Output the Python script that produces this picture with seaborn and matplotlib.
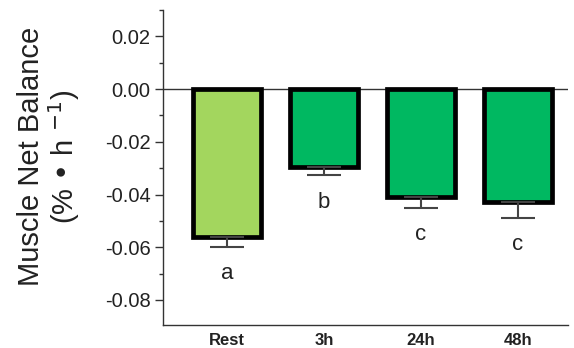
import matplotlib
matplotlib.use("Agg")
import matplotlib.pyplot as plt
import seaborn as sns
import pandas as pd
import numpy as np
from matplotlib.ticker import MultipleLocator

categories = ["Rest", "3h", "24h", "48h"]
values = [-0.056, -0.0297, -0.0408, -0.043]
errors = [0.0038, 0.003, 0.0042, 0.0058]
letters = ["a", "b", "c", "c"]
colors = ["#A3D65E", "#00B861", "#00B861", "#00B861"]

sns.set_theme(style="ticks")
plt.rcParams['font.family'] = ['Liberation Sans', 'DejaVu Sans']

df = pd.DataFrame({"cond": categories, "val": values})

fig = plt.figure(figsize=(5.74, 3.48), dpi=100)
ax = fig.add_axes([163/574, 1-325/348, (568-163)/574, (325-10)/348])

sns.barplot(data=df, x="cond", y="val", hue="cond", palette=colors, legend=False,
            width=0.7, edgecolor="black", linewidth=3.4, saturation=1, ax=ax, errorbar=None)

for i, p in enumerate(ax.patches):
    xc = p.get_x() + p.get_width() / 2
    ax.errorbar(xc, values[i], yerr=[[errors[i]], [0]], fmt="none", ecolor="#444444",
                elinewidth=1.5, capsize=12, capthick=1.5, zorder=1)
    ax.text(xc, values[i] - errors[i] - 0.0103, letters[i], ha="center", va="center",
            fontsize=16, color="#222222")

ax.axhline(0, color="#333333", lw=1, zorder=0)
ax.set_ylim(-0.0895, 0.03)
ax.set_xlim(-0.66, 3.52)
ax.yaxis.set_minor_locator(MultipleLocator(0.01))
ax.set_yticks([0.02, 0.0, -0.02, -0.04, -0.06, -0.08])
ax.set_yticklabels(["0.02", "0.00", "-0.02", "-0.04", "-0.06", "-0.08"], fontsize=14.5, color="#222222")
ax.tick_params(axis="y", which="major", length=6, width=1, color="#333333", pad=3)
ax.tick_params(axis="y", which="minor", length=3, width=1, color="#333333")
ax.tick_params(axis="x", length=0, pad=6)
for lab in ax.get_xticklabels():
    lab.set_fontsize(12)
    lab.set_fontweight("bold")
    lab.set_color("#222222")
ax.set_xlabel("")
ax.set_ylabel("Muscle Net Balance\n(% \u2022 h $^{-1}$)", fontsize=21, color="#222222", linespacing=1.05)
ax.yaxis.set_label_coords(-0.2, 0.535)
sns.despine(ax=ax)
for s in ["left", "bottom"]:
    ax.spines[s].set_color("#333333")
    ax.spines[s].set_linewidth(1)

fig.savefig("out.png", dpi=100)
